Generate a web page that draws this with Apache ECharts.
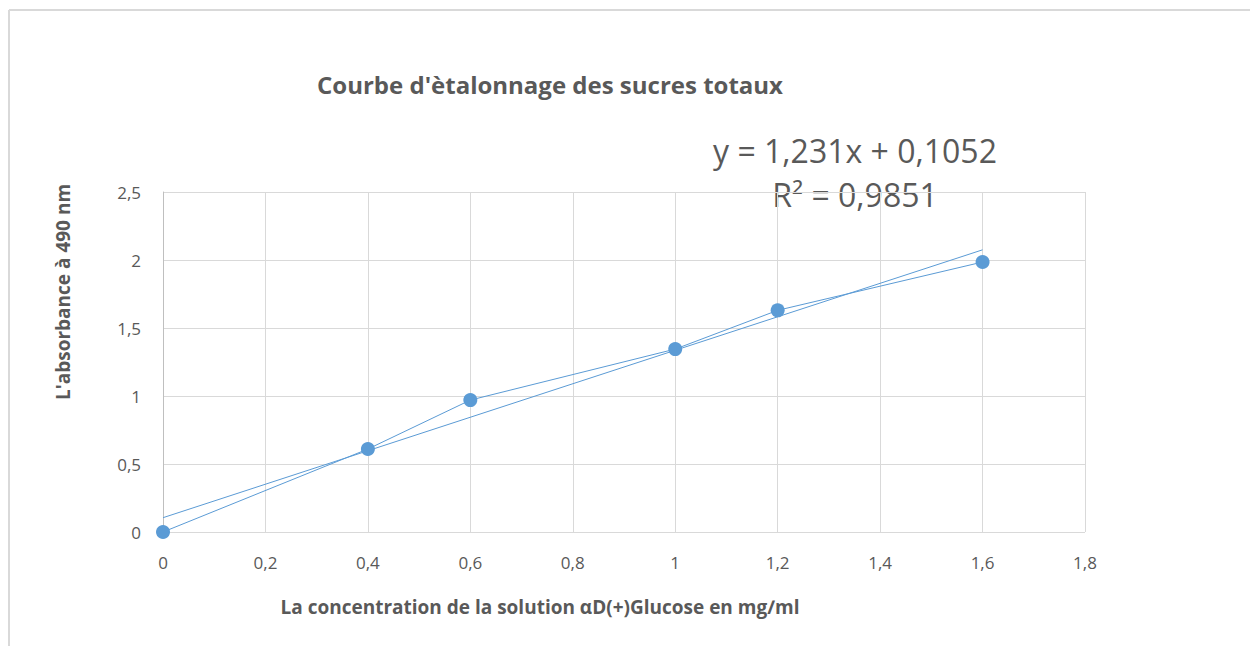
<!DOCTYPE html>
<html>
<head>
<meta charset="utf-8">
<script src="https://cdn.jsdelivr.net/npm/echarts@6/dist/echarts.min.js"></script>
<style>
  html, body { margin: 0; padding: 0; background: #fff; }
  #chart { width: 1250px; height: 646px; }
</style>
</head>
<body>
<div id="chart"></div>
<script>
// data
var concentrations = [0, 0.4, 0.6, 1, 1.2, 1.6];
var absorbances = [0, 0.61, 0.97, 1.345, 1.63, 1.985];
var xTicks = [0, 0.2, 0.4, 0.6, 0.8, 1, 1.2, 1.4, 1.6, 1.8];
var yTicks = [0, 0.5, 1, 1.5, 2, 2.5];
var slope = 1.231;
var intercept = 0.1052;
var rSquared = '0,9851';

(function() {
  var blue = '#5b9bd5';
  var ink = '#595959';
  var grid = '#d9d9d9';
  var font = '"Open Sans", sans-serif';

  function comma(v) { return String(v).replace('.', ','); }

  var points = concentrations.map(function(x, i) { return [x, absorbances[i]]; });
  var x0 = concentrations[0], x1 = concentrations[concentrations.length - 1];
  var trend = [[x0, slope * x0 + intercept], [x1, slope * x1 + intercept]];

  var chart = echarts.init(document.getElementById('chart'), null, { renderer: 'svg' });
  chart.setOption({
    animation: false,
    backgroundColor: '#fff',
    grid: { left: 163, right: 165, top: 192, bottom: 114, containLabel: false },
    xAxis: {
      type: 'value',
      min: xTicks[0],
      max: xTicks[xTicks.length - 1],
      interval: 0.2,
      axisLine: { show: false },
      axisTick: { show: false },
      splitLine: { show: true, lineStyle: { color: grid, width: 1 } },
      axisLabel: {
        color: ink, fontFamily: font, fontSize: 17, margin: 22,
        formatter: function(v) { return comma(Math.round(v * 10) / 10); }
      }
    },
    yAxis: {
      type: 'value',
      min: yTicks[0],
      max: yTicks[yTicks.length - 1],
      interval: 0.5,
      axisLine: { show: true, lineStyle: { color: '#bfbfbf' } },
      axisTick: { show: false },
      splitLine: { show: true, lineStyle: { color: grid, width: 1 } },
      axisLabel: {
        color: ink, fontFamily: font, fontSize: 17, margin: 22,
        formatter: function(v) { return comma(v); }
      }
    },
    series: [
      {
        type: 'line',
        data: points,
        lineStyle: { color: blue, width: 1 },
        itemStyle: { color: blue },
        symbol: 'circle',
        symbolSize: 14,
        z: 3
      },
      {
        type: 'line',
        data: trend,
        showSymbol: false,
        symbol: 'none',
        lineStyle: { color: blue, width: 1 },
        z: 2
      }
    ],
    graphic: [
      { type: 'line', shape: { x1: 9, y1: 10, x2: 1250, y2: 10 }, style: { stroke: '#d9d9d9', lineWidth: 2 } },
      { type: 'line', shape: { x1: 9, y1: 10, x2: 9, y2: 646 }, style: { stroke: '#d9d9d9', lineWidth: 2 } },
      {
        type: 'text', x: 550, y: 84,
        style: {
          text: "Courbe d'\u00e8talonnage des sucres totaux", fill: ink,
          font: 'bold 24px ' + font, align: 'center', verticalAlign: 'middle'
        }
      },
      {
        type: 'text', x: 855, y: 150,
        style: {
          text: 'y = ' + comma(slope) + 'x + ' + comma(intercept),
          fill: ink, font: '32px ' + font, align: 'center', verticalAlign: 'middle'
        }
      },
      {
        type: 'text', x: 855, y: 194,
        style: {
          text: 'R\u00b2 = ' + rSquared,
          fill: ink, font: '32px ' + font, align: 'center', verticalAlign: 'middle'
        }
      },
      {
        type: 'text', x: 63, y: 292, rotation: Math.PI / 2,
        style: {
          text: "L'absorbance \u00e0 490 nm", fill: ink,
          font: 'bold 19px ' + font, align: 'center', verticalAlign: 'middle'
        }
      },
      {
        type: 'text', x: 540, y: 607,
        style: {
          text: 'La concentration de la solution \u03b1D(+)Glucose en mg\u2215ml', fill: ink,
          font: 'bold 19px ' + font, align: 'center', verticalAlign: 'middle'
        }
      }
    ]
  });
  window.addEventListener('resize', function() { chart.resize(); });
})();
</script>
</body>
</html>
